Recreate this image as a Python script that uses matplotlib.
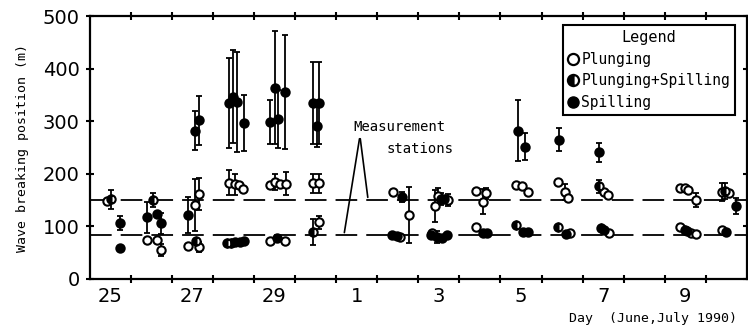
import numpy as np
import matplotlib
matplotlib.use("Agg")
import matplotlib.pyplot as plt
from matplotlib.lines import Line2D

# day index: 0 = start of 25 June, 16 = end of 10 July
day_labels = ['25', '27', '29', '1', '3', '5', '7', '9']
label_pos = [0.5, 2.5, 4.5, 6.5, 8.5, 10.5, 12.5, 14.5]
stations = [150, 83]

# plunging breakers (open circles)
plg_day = [0.42, 1.41, 1.63, 1.73, 2.39, 2.57, 2.67, 2.67, 3.40, 3.55, 3.63, 3.74,
           4.39, 4.52, 4.63, 4.77, 4.39, 4.75, 5.43, 5.59, 5.59,
           7.39, 7.55, 7.78, 8.40, 8.47, 8.72, 8.33, 9.41, 9.58, 9.66, 9.41,
           10.39, 10.53, 10.66, 11.40, 11.57, 11.65, 11.68, 12.52, 12.62, 12.64,
           14.38, 14.48, 14.56, 14.75, 14.38, 14.64, 14.75, 15.38, 15.55, 15.40]
plg_pos = [148, 74, 74, 55, 63, 141, 162, 61, 183, 180, 178, 172,
           179, 185, 181, 181, 73, 73, 182, 182, 108,
           166, 79, 122, 139, 158, 150, 87, 168, 147, 163, 98,
           179, 176, 166, 185, 166, 155, 87, 166, 160, 88,
           174, 174, 169, 150, 98, 88, 86, 166, 163, 94]
plg_err = [0, 0, 0, 12, 0, 50, 30, 10, 24, 20, 0, 0,
           0, 15, 0, 22, 0, 0, 18, 18, 12,
           0, 0, 53, 30, 15, 12, 0, 0, 24, 10, 0,
           0, 0, 0, 0, 15, 0, 0, 0, 0, 0,
           0, 0, 0, 14, 0, 0, 0, 17, 0, 0]

# plunging + spilling (half filled)
mix_day = [0.52, 1.55, 2.60, 3.35, 3.45, 5.43, 8.55, 10.39, 11.40, 12.40, 12.45, 14.48, 15.47]
mix_pos = [152, 150, 72, 69, 69, 90, 152, 103, 99, 176, 97, 94, 168]
mix_err = [18, 13, 0, 0, 0, 25, 12, 0, 0, 12, 0, 0, 15]

# spilling breakers (filled circles)
spl_day = [0.74, 0.74, 1.41, 1.63, 1.73, 2.39, 2.57, 2.67,
           3.40, 3.50, 3.58, 3.76, 3.55, 3.65, 3.75,
           4.39, 4.51, 4.59, 4.76, 4.55, 5.43, 5.53, 5.59,
           7.35, 7.47, 7.60, 8.62, 8.30, 8.45, 8.58, 8.70, 9.58, 9.68,
           10.43, 10.60, 10.56, 10.66, 11.42, 11.60, 12.40, 12.52, 14.55, 15.50, 15.74]
spl_pos = [106, 59, 117, 124, 106, 122, 282, 302,
           335, 347, 337, 297, 70, 71, 72,
           299, 364, 305, 356, 78, 335, 291, 335,
           84, 82, 156, 152, 84, 80, 78, 84, 87, 87,
           282, 252, 90, 90, 265, 86, 241, 94, 92, 90, 139]
spl_err = [13, 0, 30, 0, 20, 34, 37, 47,
           86, 88, 95, 53, 0, 0, 0,
           42, 108, 55, 108, 0, 78, 40, 78,
           0, 0, 10, 0, 0, 12, 0, 0, 0, 0,
           58, 26, 0, 0, 22, 0, 18, 0, 0, 0, 16]

mono = 'DejaVu Sans Mono'

fig = plt.figure(figsize=(7.48, 3.29), dpi=100)
ax = fig.add_axes([0.1197, 0.152, 0.879, 0.799])

for xs, ys, es in [(plg_day, plg_pos, plg_err), (mix_day, mix_pos, mix_err),
                   (spl_day, spl_pos, spl_err)]:
    xs, ys, es = np.array(xs), np.array(ys), np.array(es)
    m = es > 0
    ax.errorbar(xs[m], ys[m], yerr=es[m], fmt='none', ecolor='black',
                elinewidth=1.3, capsize=2.5, capthick=1.3, zorder=2)

ms = 6
ax.plot(plg_day, plg_pos, 'o', ms=ms, mfc='white', mec='black', mew=1.5, zorder=3)
ax.plot(mix_day, mix_pos, 'o', ms=ms, fillstyle='left', mfc='black',
        markerfacecoloralt='white', mec='black', mew=1.5, zorder=4)
ax.plot(spl_day, spl_pos, 'o', ms=ms, mfc='black', mec='black', mew=1.5, zorder=5)

for s in stations:
    ax.axhline(s, color='black', lw=1.3, dashes=(12, 5), zorder=1)

# station annotation
ax.text(6.41, 290, 'Measurement', fontfamily=mono, fontsize=10, va='center', ha='left')
ax.text(7.23, 247, 'stations', fontfamily=mono, fontsize=10, va='center', ha='left')
for end in [(6.78, 150), (6.19, 83)]:
    ax.annotate('', xy=end, xytext=(6.58, 272),
                arrowprops=dict(arrowstyle='-', color='black', lw=1.2))

ax.set_xlim(0, 16)
ax.set_ylim(0, 500)
ax.set_xticks(np.arange(1, 16))
ax.set_xticklabels([])
ax.set_xticks(label_pos, minor=True)
ax.set_xticklabels(day_labels, minor=True, fontsize=14)
ax.set_yticks(np.arange(0, 501, 100))
ax.tick_params(axis='both', which='major', direction='inout', length=6, width=1.5,
               top=True, right=True, labelsize=14)
ax.tick_params(axis='x', which='minor', length=0, pad=6)
ax.tick_params(axis='y', pad=4)
for sp in ax.spines.values():
    sp.set_linewidth(1.6)

ax.set_ylabel('Wave breaking position (m)', fontfamily=mono, fontsize=9.5, labelpad=10)
fig.text(0.985, 0.033, 'Day  (June,July 1990)', fontfamily=mono, fontsize=9.5,
         ha='right', va='center')

handles = [
    Line2D([], [], ls='none', marker='o', ms=8, mfc='white', mec='black', mew=1.6),
    Line2D([], [], ls='none', marker='o', ms=8, fillstyle='left', mfc='black',
           markerfacecoloralt='white', mec='black', mew=1.6),
    Line2D([], [], ls='none', marker='o', ms=8, mfc='black', mec='black'),
]
leg = ax.legend(handles, ['Plunging', 'Plunging+Spilling', 'Spilling'],
                title='Legend', loc='upper right', bbox_to_anchor=(0.982, 0.966),
                borderaxespad=0, prop={'family': mono, 'size': 10.5},
                handlelength=0.7, handletextpad=0.2, borderpad=0.35,
                labelspacing=0.45, fancybox=False, framealpha=1,
                edgecolor='black')
leg.get_title().set_fontfamily(mono)
leg.get_title().set_fontsize(11)
leg.get_frame().set_linewidth(1.5)

fig.savefig('out.png', dpi=100)
